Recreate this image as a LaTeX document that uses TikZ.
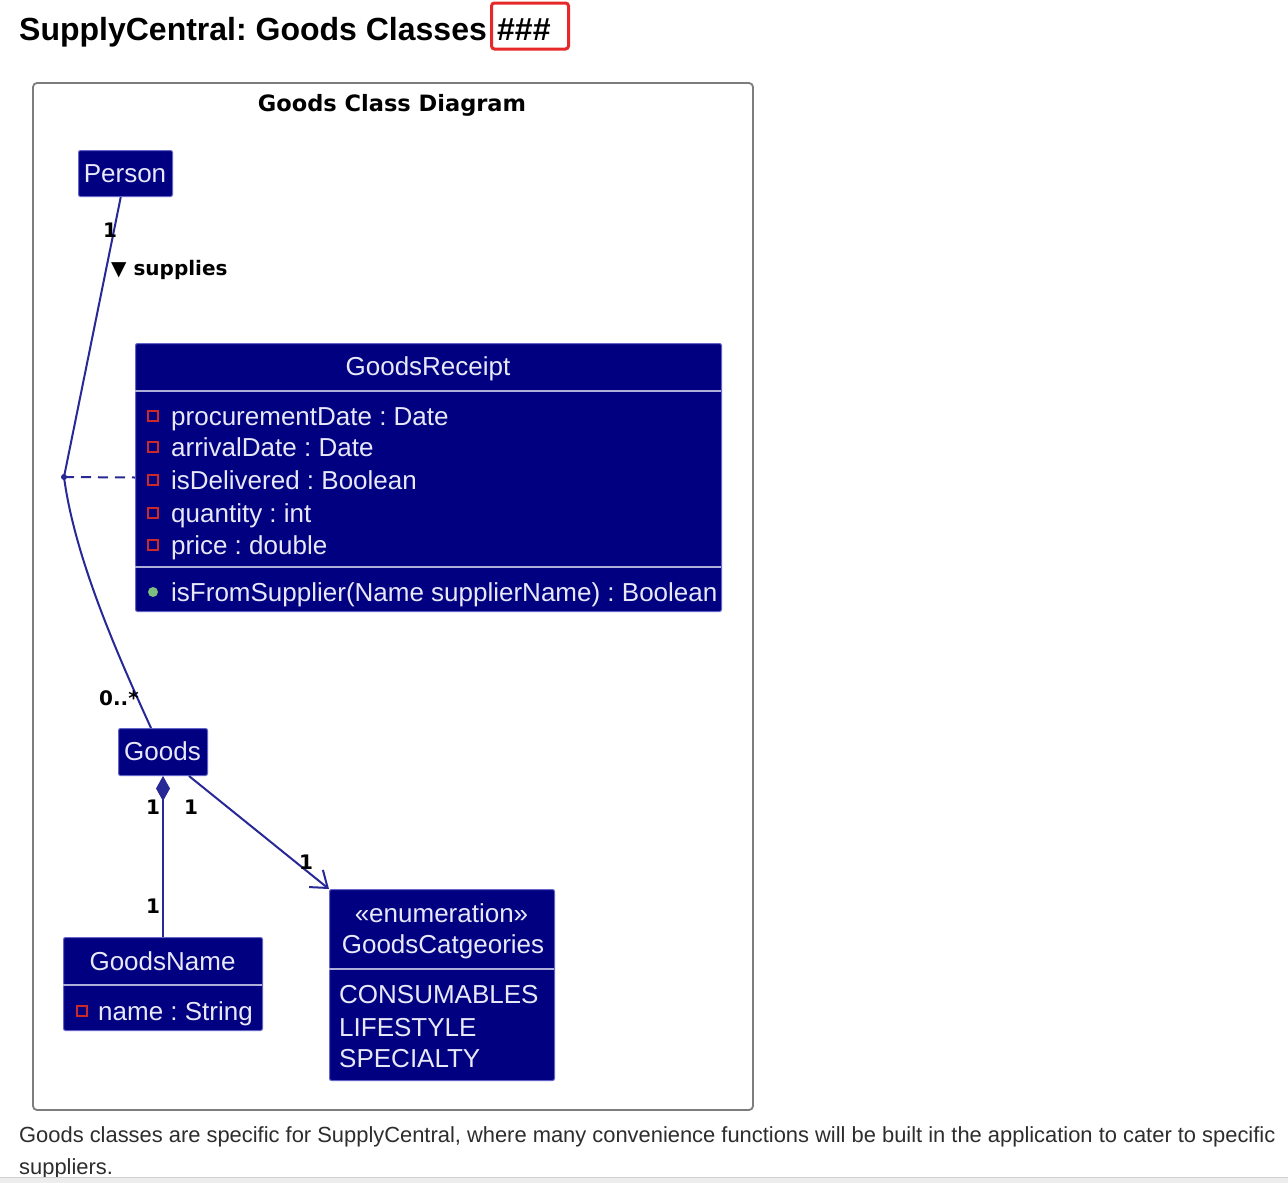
\documentclass[tikz,border=0pt]{standalone}
\usepackage{fontspec}
\setmainfont{Liberation Sans}
\newfontfamily\djv{DejaVu Sans}
\usetikzlibrary{arrows.meta}

\definecolor{umlnavy}{RGB}{0,0,128}
\definecolor{umledge}{RGB}{100,100,200}
\definecolor{umlline}{RGB}{40,40,150}
\definecolor{umltext}{RGB}{232,232,248}
\definecolor{privred}{RGB}{205,40,40}
\definecolor{pubgreen}{RGB}{125,190,125}
\definecolor{framegray}{RGB}{125,125,125}
\definecolor{hashred}{RGB}{230,40,40}
\definecolor{captext}{RGB}{45,45,45}

\tikzset{
  classbox/.style={draw=umledge, fill=umlnavy, rounded corners=2pt, line width=1pt, inner sep=0pt, anchor=north west},
  member/.style={anchor=base west, text=umltext, font=\fontsize{26}{30}\selectfont, inner sep=0pt},
  heading/.style={anchor=base, text=umltext, font=\fontsize{26}{30}\selectfont, inner sep=0pt},
  mult/.style={font=\djv\bfseries\fontsize{20}{24}\selectfont, inner sep=0pt},
  assoc/.style={draw=umlline, line width=2pt},
  sepline/.style={draw=umltext!75!umlnavy, line width=1.8pt},
  privmark/.style={draw=privred, line width=1.6pt, minimum size=10pt, inner sep=0pt},
  pubmark/.style={circle, fill=pubgreen, minimum size=10pt, inner sep=0pt},
}

\begin{document}
\frenchspacing
\begin{tikzpicture}[x=1pt, y=-1pt]
    \useasboundingbox (0,0) rectangle (1288,1183);
    \fill[white] (0,0) rectangle (1288,1183);

    % page heading
    \node[anchor=base west, inner sep=0pt, font=\bfseries\fontsize{32}{38}\selectfont] (pagetitle) at (19,40) {SupplyCentral: Goods Classes};
    \node[anchor=base west, inner sep=0pt, font=\bfseries\fontsize{32}{38}\selectfont] (hashes) at (497,40) {\#\#\#};
    \node[draw=hashred, line width=3pt, rounded corners=3pt, minimum width=77pt, minimum height=46pt, anchor=north west] (hashbox) at (490,1.5) {};

    % diagram frame
    \draw[framegray, line width=1.8pt, rounded corners=4pt] (33,83) rectangle (753,1110);
    \node[font=\djv\bfseries\fontsize{22.5}{26}\selectfont, inner sep=0pt] (diagtitle) at (392,105) {Goods Class Diagram};

    % Person
    \node[classbox, minimum width=94pt, minimum height=46pt] (person) at (78,150) {};
    \node[heading] (personname) at (125,182) {Person};

    % GoodsReceipt
    \node[classbox, minimum width=586pt, minimum height=268pt] (receipt) at (135,343) {};
    \node[heading] (receiptname) at (428,375) {GoodsReceipt};
    \draw[sepline] (135,391) -- (721,391);
    \draw[sepline] (135,567) -- (721,567);
    \foreach \txt/\yy in {{procurementDate : Date}/425, {arrivalDate : Date}/456, {isDelivered : Boolean}/489, {quantity : int}/522, {price : double}/554} {
            \node[privmark] (mark\yy) at (153,\yy-9) {};
            \node[member] (attr\yy) at (171,\yy) {\txt};
        }
    \node[pubmark] (pubdot) at (153,592) {};
    \node[member] (method) at (171,601) {isFromSupplier(Name supplierName) : Boolean};

    % Goods
    \node[classbox, minimum width=89pt, minimum height=47pt] (goods) at (118,728) {};
    \node[heading] (goodsname) at (162.5,760) {Goods};

    % GoodsName
    \node[classbox, minimum width=199pt, minimum height=93pt] (namebox) at (63,937) {};
    \node[heading] (namehead) at (162.5,970) {GoodsName};
    \draw[sepline] (63,985) -- (262,985);
    \node[privmark] (namemark) at (82,1011) {};
    \node[member] (nameattr) at (98,1020) {name : String};

    % GoodsCatgeories
    \node[classbox, minimum width=225pt, minimum height=191pt] (enumbox) at (329,889) {};
    \node[heading] (stereo) at (441.5,922) {«enumeration»};
    \node[heading] (enumname) at (443,953) {GoodsCatgeories};
    \draw[sepline] (329,969) -- (554,969);
    \node[member] (val1) at (339,1003) {CONSUMABLES};
    \node[member] (val2) at (339,1036) {LIFESTYLE};
    \node[member] (val3) at (339,1067) {SPECIALTY};

    % association class link
    \coordinate (mid) at (64,477);
    \draw[assoc] (person) -- (mid);
    \draw[assoc] (mid) .. controls (75,560) and (120,660) .. ([xshift=-12pt]goods.north);
    \draw[assoc, dash pattern=on 10pt off 7pt] (mid) -- (receipt.west);
    \fill[umlline] (mid) circle (3pt);

    % composition and enum link
    \draw[assoc, {Diamond[length=25pt, width=14pt]}-] (goods.south) -- (namebox.north);
    \draw[assoc, -{Straight Barb[length=15pt, width=22pt]}] ([xshift=26pt]goods.south) -- (enumbox.north west);

    % multiplicities
    \node[mult] (m1) at (110,230) {1};
    \node[mult, anchor=west] (supplies) at (111,270) {▼ supplies};
    \node[mult, anchor=base west] (m2) at (99,705) {0..*};
    \node[mult] (m3) at (153,807) {1};
    \node[mult] (m4) at (191,807) {1};
    \node[mult] (m5) at (153,906) {1};
    \node[mult] (m6) at (306,862) {1};

    % caption below
    \node[anchor=base west, inner sep=0pt, text=captext, font=\fontsize{21.9}{26}\selectfont] (cap1) at (19,1142) {Goods classes are specific for SupplyCentral, where many convenience functions will be built in the application to cater to specific};
    \node[anchor=base west, inner sep=0pt, text=captext, font=\fontsize{21.9}{26}\selectfont] (cap2) at (19,1174) {suppliers.};
    \fill[black!7] (0,1177) rectangle (1288,1183);
    \draw[black!18] (0,1177) -- (1288,1177);
\end{tikzpicture}
\end{document}
